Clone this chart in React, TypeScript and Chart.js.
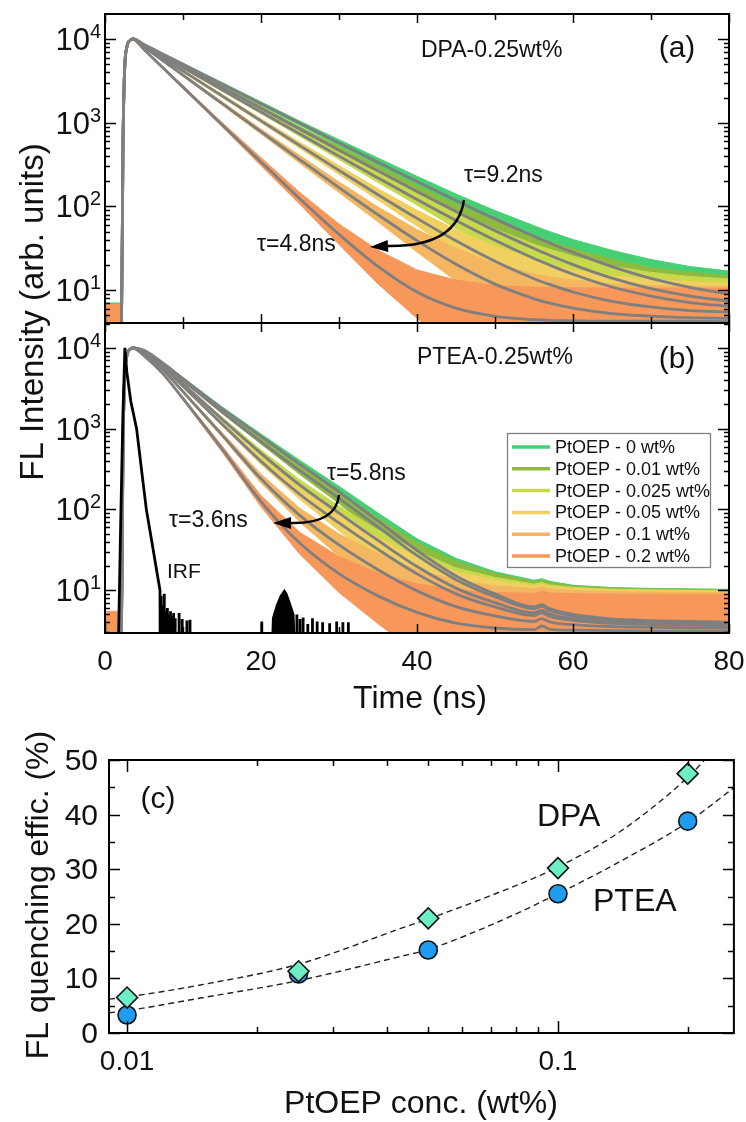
import React, { useEffect, useRef } from "react";
import { Chart, registerables } from "chart.js";

Chart.register(...registerables);

const W = 746;
const H = 1122;
const FONT = '"Liberation Sans", Arial, Helvetica, sans-serif';

// ---------------- data: panels (a) and (b) ----------------
const TIME = [1.3, 2.1, 2.3, 2.5, 2.8, 3.2, 3.6, 5, 7.5, 10, 15, 20, 25, 30, 35, 40, 45, 50, 55, 56, 57, 60, 65, 70, 75, 80];

const SERIES_LABELS = [
  "PtOEP - 0 wt%",
  "PtOEP - 0.01 wt%",
  "PtOEP - 0.025 wt%",
  "PtOEP - 0.05 wt%",
  "PtOEP - 0.1 wt%",
  "PtOEP - 0.2 wt%",
];

// fitted decays, DPA host (panel a)
const FIT_A_0 = [3, 3, 500, 4000, 8000, 9600, 10000, 8597, 6544, 4986, 2902, 1688, 983, 574, 336, 198, 118, 71, 44, 40, 36.6, 28.3, 19.1, 13.8, 10.8, 9.0];
const FIT_A_1 = [3, 3, 500, 4000, 8000, 9600, 10000, 8497, 6360, 4757, 2662, 1491, 836, 470, 266, 151, 87, 51.4, 31.4, 28.6, 26.1, 20.2, 13.9, 10.4, 8.5, 7.4];
const FIT_A_2 = [3, 3, 500, 4000, 8000, 9600, 10000, 8428, 6206, 4571, 2479, 1345, 732, 399, 219, 121, 68, 39.5, 23.9, 21.8, 19.9, 15.5, 10.9, 8.5, 7.1, 6.4];
const FIT_A_3 = [3, 3, 500, 4000, 8000, 9600, 10000, 8253, 5853, 4152, 2090, 1053, 532, 270, 138, 72, 38.8, 22.1, 13.7, 12.6, 11.7, 9.5, 7.35, 6.3, 5.7, 5.5];
const FIT_A_4 = [3, 3, 500, 4000, 8000, 9600, 10000, 8045, 5452, 3695, 1699, 781, 361, 168, 79.6, 39, 20.4, 11.8, 7.9, 7.4, 7.0, 6.1, 5.25, 4.9, 4.7, 4.6];
const FIT_A_5 = [3, 3, 500, 4000, 8000, 9600, 10000, 7486, 4464, 2662, 948, 340, 123, 46.5, 19.2, 9.5, 6.1, 4.87, 4.44, 4.4, 4.35, 4.3, 4.25, 4.25, 4.25, 4.2];

// fitted decays, PTEA host (panel b)
const FIT_B_0 = [2, 2.5, 500, 4000, 8000, 9600, 10000, 9300, 6400, 4150, 1770, 800, 360, 165, 72, 31, 15, 9, 6.2, 6.6, 5.9, 5.0, 4.4, 4.2, 4.1, 4.0];
const FIT_B_1 = [2, 2.5, 500, 4000, 8000, 9600, 10000, 9190, 6245, 3965, 1614, 690, 301, 137, 60.7, 26.9, 13.5, 8.3, 5.9, 6.3, 5.6, 4.82, 4.28, 4.1, 4.0, 3.92];
const FIT_B_2 = [2, 2.5, 500, 4000, 8000, 9600, 10000, 8950, 5907, 3580, 1312, 494, 200, 90, 41.3, 19.6, 10.6, 7.0, 5.25, 5.6, 5.07, 4.45, 4.03, 3.89, 3.81, 3.74];
const FIT_B_3 = [2, 2.5, 500, 4000, 8000, 9600, 10000, 8790, 5690, 3344, 1143, 395, 153, 68, 32, 15.9, 9.0, 6.2, 4.85, 5.25, 4.73, 4.22, 3.88, 3.75, 3.69, 3.63];
const FIT_B_4 = [2, 2.5, 500, 4000, 8000, 9600, 10000, 8440, 5236, 2868, 838, 239, 83.6, 36.3, 17.9, 9.8, 6.25, 4.8, 4.1, 4.45, 4.05, 3.74, 3.54, 3.46, 3.42, 3.39];
const FIT_B_5 = [2, 2.5, 500, 4000, 8000, 9600, 10000, 8000, 4700, 2350, 560, 125, 38, 16, 8.5, 5.3, 3.9, 3.4, 3.25, 3.6, 3.3, 3.2, 3.15, 3.12, 3.1, 3.1];

// pre-pulse background counts of the raw data
const BG_TIME = [0, 1.0, 2.05];
const BG_A = [5.4, 5.2, 5.0, 4.9, 4.8, 5.2];
const BG_B = [3.8, 3.6, 3.6, 3.5, 3.5, 4.2];

// spread of the raw (noisy) counts around the fit, by count level
const SPREAD_LEVEL = [3, 5, 10, 30, 100, 1000, 10000];
const SPREAD_UP = [1.9, 1.3, 0.8, 0.4, 0.2, 0.06, 0.02];
const SPREAD_DOWN = [0.8, 0.7, 0.5, 0.3, 0.15, 0.05, 0.02];
const BG_SPREAD = 0.3;

// instrument response function (panel b)
const IRF_T = [1.6, 1.75, 2.0, 2.3, 2.55, 2.8, 3.3, 4.05, 4.7, 5.3, 6.0, 6.6, 7.05];
const IRF_V = [1, 3, 60, 1500, 10000, 5000, 2200, 1000, 300, 100, 40, 18, 10];
const IRF_SPIKE_T = [7.2, 7.4, 7.6, 7.8, 8.0, 8.2, 8.4, 8.6, 8.8, 9.0, 9.5, 9.9, 10.5, 10.9, 20.1, 24.6, 25.0, 25.4, 26.0, 26.6, 27.2, 27.9, 28.8, 29.7, 30.5, 31.2];
const IRF_SPIKE_V = [8.5, 6.5, 9, 5.5, 6, 5, 5.5, 4.8, 5.2, 4.5, 5.2, 4.4, 4.2, 4.3, 4.1, 5.0, 4.4, 4.6, 3.8, 4.5, 4.1, 4.0, 3.9, 4.1, 4.0, 4.0];
const IRF_BURST_T = [21.2, 21.5, 22.0, 22.5, 23.0, 23.3, 23.7, 24.2, 24.6];
const IRF_BURST_V = [0.5, 4.5, 6.5, 8.5, 10, 9, 7, 5, 0.5];

// ---------------- data: panel (c) ----------------
const CONC = [0.01, 0.025, 0.05, 0.1, 0.2];
const DPA_EFF = [6.5, 11.3, 21.0, 30.2, 47.5];
const PTEA_EFF = [3.3, 10.8, 15.2, 25.5, 38.8];
const DPA_FIT_X = [0.00908, 0.01, 0.0148, 0.025, 0.043, 0.05, 0.07, 0.1, 0.14, 0.2, 0.219];
const DPA_FIT_Y = [6.2, 6.6, 8.8, 12.6, 19.1, 20.9, 25.2, 30.4, 37.0, 46.8, 50.0];
const PTEA_FIT_X = [0.00908, 0.01, 0.0148, 0.025, 0.043, 0.05, 0.07, 0.1, 0.14, 0.2, 0.256];
const PTEA_FIT_Y = [3.7, 4.1, 6.4, 9.6, 14.0, 15.3, 19.8, 25.5, 31.5, 38.6, 44.9];

// ticks
const TIME_TICKS = [0, 20, 40, 60, 80];
const TIME_MINOR = [10, 30, 50, 70];
const EFF_TICKS = [0, 10, 20, 30, 40, 50];
const CONC_TICKS = [0.01, 0.1];
const CONC_TICK_LABELS = ["0.01", "0.1"];

// ---------------- styles / layout ----------------
const COLORS = ["#47cf74", "#8dbb40", "#c9d94c", "#f0d060", "#f4b660", "#f7975a"];
const FIT_COLOR = "#7f7f7f";
const AREA_A = { left: 105, top: 14, right: 729, bottom: 323 };
const AREA_B = { left: 105, top: 323, right: 729, bottom: 633 };
const AREA_C = { left: 109, top: 760, right: 734, bottom: 1033 };
const RANGE_A = { min: 4.05, max: 19900 };
const RANGE_B = { min: 2.95, max: 20300 };

function padFor(a: any) {
  return { left: a.left, top: a.top, right: W - a.right, bottom: H - a.bottom };
}

function interpSpread(v: number, table: number[]) {
  const L = SPREAD_LEVEL.map((x) => Math.log10(x));
  const lv = Math.log10(v);
  if (lv <= L[0]) return table[0];
  for (let i = 1; i < L.length; i++) {
    if (lv <= L[i]) {
      const f = (lv - L[i - 1]) / (L[i] - L[i - 1]);
      return table[i - 1] + f * (table[i] - table[i - 1]);
    }
  }
  return table[table.length - 1];
}

function bandDatasets(fit: number[], bg: number, color: string, order: number) {
  const up: any[] = [];
  const lo: any[] = [];
  BG_TIME.forEach((t) => {
    up.push({ x: t, y: bg * (1 + BG_SPREAD) });
    lo.push({ x: t, y: bg * (1 - BG_SPREAD) });
  });
  for (let i = 2; i < TIME.length; i++) {
    const v = fit[i];
    up.push({ x: TIME[i], y: v * (1 + interpSpread(v, SPREAD_UP)) });
    lo.push({ x: TIME[i], y: Math.max(v * (1 - interpSpread(v, SPREAD_DOWN)), 0.3) });
  }
  return [
    { data: up, borderColor: color, borderWidth: 1, pointRadius: 0, fill: false, tension: 0, order },
    { data: lo, borderColor: color, borderWidth: 1, pointRadius: 0, fill: "-1", backgroundColor: color, tension: 0, order },
  ];
}

function fitDataset(fit: number[]) {
  return {
    data: TIME.map((t, i) => ({ x: t, y: fit[i] })),
    borderColor: FIT_COLOR,
    borderWidth: 2.8,
    pointRadius: 0,
    fill: false,
    cubicInterpolationMode: "monotone",
    order: 0,
  };
}

function decayDatasets(fits: number[][], bgs: number[]) {
  const ds: any[] = [];
  // green (0 wt%) is painted first, orange (0.2 wt%) last
  fits.forEach((f, i) => ds.push(...bandDatasets(f, bgs[i], COLORS[i], 8 - i)));
  fits.forEach((f) => ds.push(fitDataset(f)));
  return ds;
}

function irfDatasets() {
  const main: any[] = IRF_T.map((t, i) => ({ x: t, y: IRF_V[i] }));
  main.push({ x: 7.1, y: 0.3 });
  IRF_SPIKE_T.forEach((t, i) => {
    main.push({ x: t, y: 0.3 });
    main.push({ x: t, y: IRF_SPIKE_V[i] });
    main.push({ x: t, y: 0.3 });
  });
  const burst = IRF_BURST_T.map((t, i) => ({ x: t, y: IRF_BURST_V[i] }));
  return [
    { data: main, borderColor: "#000", borderWidth: 2.8, pointRadius: 0, fill: false, tension: 0, order: -1 },
    { data: burst, borderColor: "#000", borderWidth: 1.5, pointRadius: 0, fill: "start", backgroundColor: "#000", tension: 0, order: -1 },
  ];
}

// ---------------- drawing helpers ----------------
function setFont(ctx: CanvasRenderingContext2D, size: number) {
  ctx.font = `${size}px ${FONT}`;
}

function text(ctx: CanvasRenderingContext2D, s: string, x: number, y: number, size: number, align: CanvasTextAlign = "left", baseline: CanvasTextBaseline = "alphabetic") {
  setFont(ctx, size);
  ctx.textAlign = align;
  ctx.textBaseline = baseline;
  ctx.fillStyle = "#111";
  ctx.fillText(s, x, y);
}

function rotText(ctx: CanvasRenderingContext2D, s: string, x: number, y: number, size: number) {
  ctx.save();
  ctx.translate(x, y);
  ctx.rotate(-Math.PI / 2);
  text(ctx, s, 0, 0, size, "center", "alphabetic");
  ctx.restore();
}

function frame(ctx: CanvasRenderingContext2D, a: any) {
  ctx.save();
  ctx.strokeStyle = "#000";
  ctx.lineWidth = 2;
  ctx.strokeRect(a.left, a.top, a.right - a.left, a.bottom - a.top);
  ctx.restore();
}

function vTick(ctx: CanvasRenderingContext2D, x: number, a: any, len: number) {
  ctx.beginPath();
  ctx.moveTo(x, a.bottom);
  ctx.lineTo(x, a.bottom - len);
  ctx.moveTo(x, a.top);
  ctx.lineTo(x, a.top + len);
  ctx.stroke();
}

function hTick(ctx: CanvasRenderingContext2D, y: number, a: any, len: number) {
  ctx.beginPath();
  ctx.moveTo(a.left, y);
  ctx.lineTo(a.left + len, y);
  ctx.moveTo(a.right, y);
  ctx.lineTo(a.right - len, y);
  ctx.stroke();
}

function logTicksY(ctx: CanvasRenderingContext2D, scale: any, a: any, min: number, max: number) {
  for (let d = Math.floor(Math.log10(min)); d <= Math.ceil(Math.log10(max)); d++) {
    for (let m = 1; m <= 9; m++) {
      const v = m * Math.pow(10, d);
      if (v < min || v > max) continue;
      hTick(ctx, Math.round(scale.getPixelForValue(v)) + 0.5, a, m === 1 ? 11 : 5);
    }
  }
}

function logLabelsY(ctx: CanvasRenderingContext2D, scale: any, min: number, max: number) {
  for (let d = 1; d <= 4; d++) {
    const v = Math.pow(10, d);
    if (v < min || v > max) continue;
    const y = scale.getPixelForValue(v);
    setFont(ctx, 20);
    const sw = ctx.measureText(String(d)).width;
    const xr = 101;
    text(ctx, "10", xr - sw, y + 11, 31, "right");
    text(ctx, String(d), xr - sw, y - 1, 20, "left");
  }
}

function timeTicks(ctx: CanvasRenderingContext2D, scale: any, a: any) {
  TIME_TICKS.forEach((t) => vTick(ctx, Math.round(scale.getPixelForValue(t)) + 0.5, a, 9));
  TIME_MINOR.forEach((t) => vTick(ctx, Math.round(scale.getPixelForValue(t)) + 0.5, a, 6));
}

function curvedArrow(ctx: CanvasRenderingContext2D, p: number[]) {
  const [sx, sy, cx, cy, ex, ey, tx, ty] = p;
  ctx.save();
  ctx.strokeStyle = "#000";
  ctx.fillStyle = "#000";
  ctx.lineWidth = 2.4;
  ctx.beginPath();
  ctx.moveTo(sx, sy);
  ctx.quadraticCurveTo(cx, cy, ex, ey);
  ctx.stroke();
  const ang = Math.atan2(ty - ey, tx - ex);
  const hw = 6;
  ctx.beginPath();
  ctx.moveTo(tx, ty);
  ctx.lineTo(ex + hw * Math.sin(ang), ey - hw * Math.cos(ang));
  ctx.lineTo(ex - hw * Math.sin(ang), ey + hw * Math.cos(ang));
  ctx.closePath();
  ctx.fill();
  ctx.restore();
}

// ---------------- plugins ----------------
const decorA = {
  id: "decorA",
  afterDraw(chart: any) {
    const ctx = chart.ctx;
    const a = chart.chartArea;
    ctx.save();
    frame(ctx, a);
    ctx.strokeStyle = "#000";
    ctx.lineWidth = 1.5;
    logTicksY(ctx, chart.scales.y, a, RANGE_A.min, RANGE_A.max);
    timeTicks(ctx, chart.scales.x, a);
    logLabelsY(ctx, chart.scales.y, RANGE_A.min, RANGE_A.max);
    text(ctx, "DPA-0.25wt%", 421, 57, 23);
    text(ctx, "(a)", 677, 57, 30, "center");
    text(ctx, "\u03c4=9.2ns", 464, 182, 23);
    text(ctx, "\u03c4=4.8ns", 257, 251, 23);
    curvedArrow(ctx, [464, 200, 457, 247, 388, 246, 370, 247]);
    rotText(ctx, "FL Intensity (arb. units)", 43, 312, 33);
    ctx.restore();
  },
};

const decorB = {
  id: "decorB",
  afterDraw(chart: any) {
    const ctx = chart.ctx;
    const a = chart.chartArea;
    ctx.save();
    frame(ctx, a);
    ctx.strokeStyle = "#000";
    ctx.lineWidth = 1.5;
    logTicksY(ctx, chart.scales.y, a, RANGE_B.min, RANGE_B.max);
    timeTicks(ctx, chart.scales.x, a);
    logLabelsY(ctx, chart.scales.y, RANGE_B.min, RANGE_B.max);
    TIME_TICKS.forEach((t) => text(ctx, String(t), chart.scales.x.getPixelForValue(t), 670, 28, "center"));
    text(ctx, "Time (ns)", 420, 708, 32, "center");
    text(ctx, "PTEA-0.25wt%", 417, 364, 23);
    text(ctx, "(b)", 677, 368, 30, "center");
    text(ctx, "\u03c4=5.8ns", 327, 480, 23);
    text(ctx, "\u03c4=3.6ns", 169, 527, 23);
    text(ctx, "IRF", 167, 578, 21);
    curvedArrow(ctx, [339, 495, 336, 524, 291, 523, 273, 523]);
    // legend
    ctx.fillStyle = "#fff";
    ctx.fillRect(507, 433, 203, 134);
    ctx.strokeStyle = "#808080";
    ctx.lineWidth = 1.3;
    ctx.strokeRect(507.5, 433.5, 203, 134);
    SERIES_LABELS.forEach((lab, i) => {
      const y = 447 + i * 21.8;
      ctx.strokeStyle = COLORS[i];
      ctx.lineWidth = 3.5;
      ctx.beginPath();
      ctx.moveTo(512, y);
      ctx.lineTo(550, y);
      ctx.stroke();
      text(ctx, lab, 555, y + 1, 18, "left", "middle");
    });
    ctx.restore();
  },
};

const decorC = {
  id: "decorC",
  afterDraw(chart: any) {
    const ctx = chart.ctx;
    const a = chart.chartArea;
    const xs = chart.scales.x;
    const ys = chart.scales.y;
    ctx.save();
    frame(ctx, a);
    ctx.strokeStyle = "#000";
    ctx.lineWidth = 1.5;
    for (let v = 0; v <= 50; v += 5) hTick(ctx, Math.round(ys.getPixelForValue(v)) + 0.5, a, v % 10 === 0 ? 11 : 6);
    for (let d = -3; d <= 0; d++) {
      for (let m = 1; m <= 9; m++) {
        const v = m * Math.pow(10, d);
        if (v < 0.00908 || v > 0.256) continue;
        vTick(ctx, Math.round(xs.getPixelForValue(v)) + 0.5, a, m === 1 ? 12 : 6);
      }
    }
    EFF_TICKS.forEach((v) => text(ctx, String(v), 98, ys.getPixelForValue(v) + 10, 30, "right"));
    CONC_TICKS.forEach((v, i) => text(ctx, CONC_TICK_LABELS[i], xs.getPixelForValue(v), 1070, 28, "center"));
    text(ctx, "(c)", 158, 808, 30, "center");
    text(ctx, "DPA", 537, 826, 32);
    text(ctx, "PTEA", 593, 911, 32);
    text(ctx, "PtOEP conc. (wt%)", 421, 1113, 32, "center");
    rotText(ctx, "FL quenching effic. (%)", 48, 895, 32);
    ctx.restore();
  },
};

function baseOptions(area: any) {
  return {
    responsive: false,
    animation: false,
    devicePixelRatio: 1,
    layout: { padding: padFor(area) },
    plugins: { legend: { display: false }, tooltip: { enabled: false }, title: { display: false } },
    events: [],
  };
}

function configA() {
  return {
    type: "line",
    data: { datasets: decayDatasets([FIT_A_0, FIT_A_1, FIT_A_2, FIT_A_3, FIT_A_4, FIT_A_5], BG_A) },
    options: {
      ...baseOptions(AREA_A),
      scales: {
        x: { type: "linear", min: 0, max: 80, display: false },
        y: { type: "logarithmic", min: RANGE_A.min, max: RANGE_A.max, display: false },
      },
    },
    plugins: [decorA],
  };
}

function configB() {
  return {
    type: "line",
    data: { datasets: [...irfDatasets(), ...decayDatasets([FIT_B_0, FIT_B_1, FIT_B_2, FIT_B_3, FIT_B_4, FIT_B_5], BG_B)] },
    options: {
      ...baseOptions(AREA_B),
      scales: {
        x: { type: "linear", min: 0, max: 80, display: false },
        y: { type: "logarithmic", min: RANGE_B.min, max: RANGE_B.max, display: false },
      },
    },
    plugins: [decorB],
  };
}

function configC() {
  return {
    type: "line",
    data: {
      datasets: [
        {
          data: CONC.map((c, i) => ({ x: c, y: DPA_EFF[i] })),
          showLine: false,
          pointStyle: "rectRot",
          pointRadius: 10.5,
          backgroundColor: "#6cefc6",
          borderColor: "#111",
          borderWidth: 1.6,
          clip: false,
          order: 0,
        },
        {
          data: CONC.map((c, i) => ({ x: c, y: PTEA_EFF[i] })),
          showLine: false,
          pointStyle: "circle",
          pointRadius: 9,
          backgroundColor: "#1e9cf0",
          borderColor: "#111",
          borderWidth: 1.6,
          clip: false,
          order: 1,
        },
        {
          data: DPA_FIT_X.map((c, i) => ({ x: c, y: DPA_FIT_Y[i] })),
          borderColor: "#222",
          borderWidth: 1.4,
          borderDash: [6, 4],
          pointRadius: 0,
          cubicInterpolationMode: "monotone",
          fill: false,
          order: 2,
        },
        {
          data: PTEA_FIT_X.map((c, i) => ({ x: c, y: PTEA_FIT_Y[i] })),
          borderColor: "#222",
          borderWidth: 1.4,
          borderDash: [6, 4],
          pointRadius: 0,
          cubicInterpolationMode: "monotone",
          fill: false,
          order: 2,
        },
      ],
    },
    options: {
      ...baseOptions(AREA_C),
      scales: {
        x: { type: "logarithmic", min: 0.00908, max: 0.256, display: false },
        y: { type: "linear", min: 0, max: 50, display: false },
      },
    },
    plugins: [decorC],
  };
}

function ChartCanvas({ make }: { make: () => any }) {
  const ref = useRef<HTMLCanvasElement | null>(null);
  useEffect(() => {
    if (!ref.current) return;
    const chart = new Chart(ref.current, make());
    return () => chart.destroy();
  }, [make]);
  return <canvas ref={ref} width={W} height={H} style={{ position: "absolute", left: 0, top: 0, width: W, height: H }} />;
}

export default function App() {
  return (
    <div style={{ position: "absolute", left: 0, top: 0, width: W, height: H, background: "#fff", overflow: "hidden" }}>
      <ChartCanvas make={configA} />
      <ChartCanvas make={configB} />
      <ChartCanvas make={configC} />
    </div>
  );
}
